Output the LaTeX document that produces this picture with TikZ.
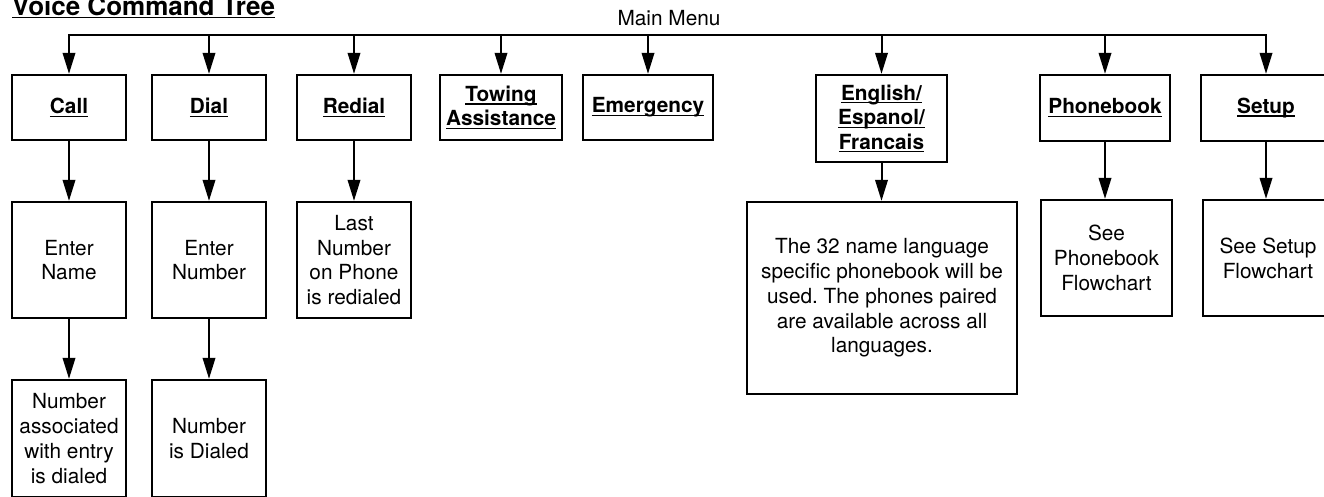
\documentclass[tikz,border=0pt]{standalone}
\usepackage{fontspec}
\setmainfont{TeX Gyre Heros}
\usetikzlibrary{arrows.meta}
\frenchspacing
\newcommand{\undl}[1]{\setbox0\hbox{#1}\leavevmode\rlap{\rule[-3.4pt]{\wd0}{1.4pt}}\box0}

\tikzset{
	menubox/.style={draw=black,line width=2.3pt,inner sep=0pt,align=center,minimum height=65pt,font=\fontsize{20.8}{24.5}\selectfont\bfseries},
	infobox/.style={draw=black,line width=2.3pt,inner sep=0pt,align=center,minimum height=116pt,font=\fontsize{20.8}{24.8}\selectfont},
	down/.style={line width=2pt,-{Triangle[length=21pt,width=12.5pt]}},
	bus/.style={line width=2pt,line cap=rect},
}

\begin{document}
\begin{tikzpicture}[x=1pt,y=-1pt]
	\useasboundingbox (0,0) rectangle (1324,496);

	\node[anchor=base west,inner sep=0pt,font=\fontsize{26}{30}\selectfont\bfseries] (title) at (12,15) {\undl{Voice Command Tree}};
	\node[anchor=base,inner sep=0pt,font=\fontsize{20.8}{24.8}\selectfont] (mainmenu) at (669,25) {Main Menu};

	\node[menubox,minimum width=114pt] (call)      at (69, 107.5)   {\undl{Call}};
	\node[menubox,minimum width=114pt] (dial)      at (209, 107.5)  {\undl{Dial}};
	\node[menubox,minimum width=114pt] (redial)    at (354, 107.5)  {\undl{Redial}};
	\node[menubox,minimum width=122pt] (towing)    at (501, 107.5)  {\undl{Towing}\\\undl{Assistance}};
	\node[menubox,minimum width=130pt] (emergency) at (648, 107.5)  {\undl{Emergency}};
	\node[menubox,minimum width=131pt,minimum height=87pt] (language) at (881.5, 118.5) {\undl{English/}\\\undl{Espanol/}\\\undl{Francais}};
	\node[menubox,minimum width=130pt,minimum height=66pt] (phonebook) at (1105, 108) {\undl{Phonebook}};
	\node[menubox,minimum width=130pt,minimum height=66pt] (setup)     at (1266, 108) {\undl{Setup}};

	\node[infobox,minimum width=114pt] (callsub)   at (69, 260)     {Enter\\Name};
	\node[infobox,minimum width=114pt] (dialsub)   at (209, 260)    {Enter\\Number};
	\node[infobox,minimum width=114pt] (redialsub) at (354, 260)    {Last\\Number\\on Phone\\is redialed};
	\node[infobox,minimum width=270pt,minimum height=192pt] (langsub) at (882, 298) {The 32 name language\\specific phonebook will be\\used. The phones paired\\are available across all\\languages.};
	\node[infobox,minimum width=131pt] (phonesub)  at (1106.5, 258) {See\\Phonebook\\Flowchart};
	\node[infobox,minimum width=130pt] (setupsub)  at (1268, 258)   {See Setup\\Flowchart};

	\node[infobox,minimum width=114pt,minimum height=117pt] (callend) at (69, 438.5)  {Number\\associated\\with entry\\is dialed};
	\node[infobox,minimum width=114pt,minimum height=117pt] (dialend) at (209, 438.5) {Number\\is Dialed};

	\coordinate (busl) at (69, 35);
	\coordinate (busr) at (1266, 35);
	\draw[bus] (busl) -- (busr);

	\path[down] (call.north |- busl) edge (call);
	\path[down] (dial.north |- busl) edge (dial);
	\path[down] (redial.north |- busl) edge (redial);
	\path[down] (towing.north |- busl) edge (towing);
	\path[down] (emergency.north |- busl) edge (emergency);
	\path[down] (language.north |- busl) edge (language);
	\path[down] (phonebook.north |- busl) edge (phonebook);
	\path[down] (setup.north |- busl) edge (setup);

	\path[down] (call) edge (callsub);
	\path[down] (dial) edge (dialsub);
	\path[down] (redial) edge (redialsub);
	\path[down] (language.south) edge (language.south |- langsub.north);
	\path[down] (phonebook.south) edge (phonebook.south |- phonesub.north);
	\path[down] (setup.south) edge (setup.south |- setupsub.north);
	\path[down] (callsub) edge (callend);
	\path[down] (dialsub) edge (dialend);

\end{tikzpicture}
\end{document}
